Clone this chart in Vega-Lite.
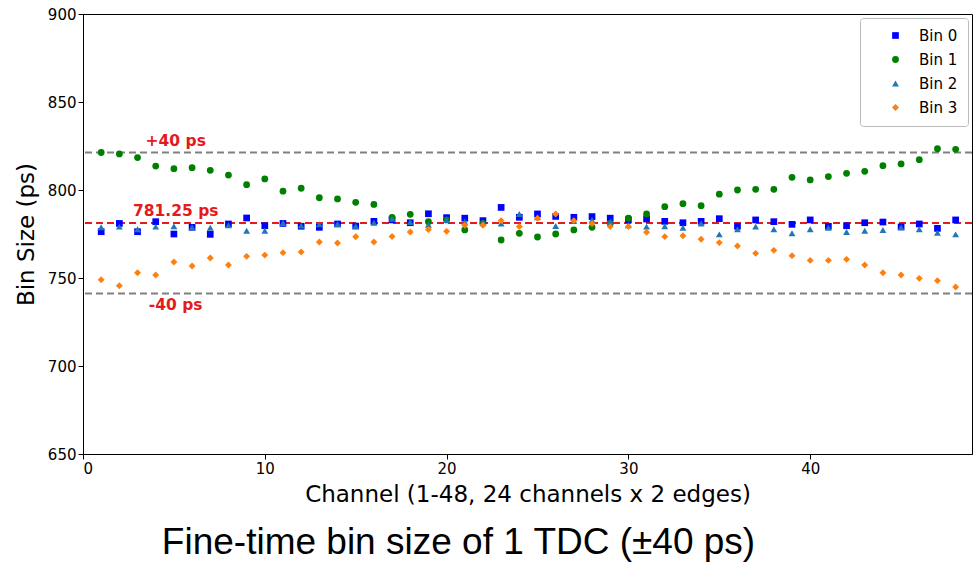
{
  "$schema": "https://vega.github.io/schema/vega-lite/v6.json",
  "width": 889,
  "height": 440,
  "autosize": {"type": "none"},
  "padding": {"left": 83, "top": 14, "right": 3, "bottom": 109},
  "background": "white",
  "config": {
    "view": {"stroke": "black", "strokeWidth": 1},
    "font": "DejaVu Sans",
    "axis": {"grid": false, "domainColor": "black", "tickColor": "black", "labelColor": "black", "titleColor": "black", "labelFontSize": 15, "titleFontSize": 23, "titleFontWeight": "normal", "tickSize": 5, "labelFont": "DejaVu Sans", "titleFont": "DejaVu Sans"}
  },
  "title": {"text": "Fine-time bin size of 1 TDC (±40 ps)", "orient": "bottom", "font": "Liberation Sans", "fontSize": 37, "fontWeight": "normal", "color": "black", "offset": 19, "anchor": "middle", "dx": -69},
  "datasets": {
    "pts": [
      {"ch":1,"bin":"Bin 0","v":776.3},{"ch":2,"bin":"Bin 0","v":781},{"ch":3,"bin":"Bin 0","v":776.3},{"ch":4,"bin":"Bin 0","v":782},{"ch":5,"bin":"Bin 0","v":775},{"ch":6,"bin":"Bin 0","v":778.8},{"ch":7,"bin":"Bin 0","v":774.8},{"ch":8,"bin":"Bin 0","v":780.7},{"ch":9,"bin":"Bin 0","v":784.1},{"ch":10,"bin":"Bin 0","v":779.7},{"ch":11,"bin":"Bin 0","v":781},{"ch":12,"bin":"Bin 0","v":779.4},{"ch":13,"bin":"Bin 0","v":778.8},{"ch":14,"bin":"Bin 0","v":780.7},{"ch":15,"bin":"Bin 0","v":779.5},{"ch":16,"bin":"Bin 0","v":782.2},{"ch":17,"bin":"Bin 0","v":783},{"ch":18,"bin":"Bin 0","v":781.4},{"ch":19,"bin":"Bin 0","v":786.5},{"ch":20,"bin":"Bin 0","v":784.3},{"ch":21,"bin":"Bin 0","v":784},{"ch":22,"bin":"Bin 0","v":782.6},{"ch":23,"bin":"Bin 0","v":790.1},{"ch":24,"bin":"Bin 0","v":784.5},{"ch":25,"bin":"Bin 0","v":786.4},{"ch":26,"bin":"Bin 0","v":785},{"ch":27,"bin":"Bin 0","v":784.5},{"ch":28,"bin":"Bin 0","v":784.9},{"ch":29,"bin":"Bin 0","v":784},{"ch":30,"bin":"Bin 0","v":783},{"ch":31,"bin":"Bin 0","v":783.5},{"ch":32,"bin":"Bin 0","v":782.2},{"ch":33,"bin":"Bin 0","v":781.4},{"ch":34,"bin":"Bin 0","v":782.2},{"ch":35,"bin":"Bin 0","v":783.7},{"ch":36,"bin":"Bin 0","v":779.4},{"ch":37,"bin":"Bin 0","v":783},{"ch":38,"bin":"Bin 0","v":782},{"ch":39,"bin":"Bin 0","v":780.5},{"ch":40,"bin":"Bin 0","v":783},{"ch":41,"bin":"Bin 0","v":779.4},{"ch":42,"bin":"Bin 0","v":779.7},{"ch":43,"bin":"Bin 0","v":781.4},{"ch":44,"bin":"Bin 0","v":781.8},{"ch":45,"bin":"Bin 0","v":779},{"ch":46,"bin":"Bin 0","v":780.7},{"ch":47,"bin":"Bin 0","v":778.2},{"ch":48,"bin":"Bin 0","v":783},
      {"ch":1,"bin":"Bin 1","v":821.3},{"ch":2,"bin":"Bin 1","v":820.5},{"ch":3,"bin":"Bin 1","v":818.4},{"ch":4,"bin":"Bin 1","v":813.6},{"ch":5,"bin":"Bin 1","v":812.1},{"ch":6,"bin":"Bin 1","v":812.7},{"ch":7,"bin":"Bin 1","v":811.2},{"ch":8,"bin":"Bin 1","v":808.5},{"ch":9,"bin":"Bin 1","v":803},{"ch":10,"bin":"Bin 1","v":806.3},{"ch":11,"bin":"Bin 1","v":799.3},{"ch":12,"bin":"Bin 1","v":801},{"ch":13,"bin":"Bin 1","v":795.6},{"ch":14,"bin":"Bin 1","v":794.9},{"ch":15,"bin":"Bin 1","v":793},{"ch":16,"bin":"Bin 1","v":791.8},{"ch":17,"bin":"Bin 1","v":784.5},{"ch":18,"bin":"Bin 1","v":786.2},{"ch":19,"bin":"Bin 1","v":782},{"ch":20,"bin":"Bin 1","v":783},{"ch":21,"bin":"Bin 1","v":777.3},{"ch":22,"bin":"Bin 1","v":781},{"ch":23,"bin":"Bin 1","v":771.6},{"ch":24,"bin":"Bin 1","v":775.4},{"ch":25,"bin":"Bin 1","v":773.3},{"ch":26,"bin":"Bin 1","v":775},{"ch":27,"bin":"Bin 1","v":777.3},{"ch":28,"bin":"Bin 1","v":778.8},{"ch":29,"bin":"Bin 1","v":781},{"ch":30,"bin":"Bin 1","v":784},{"ch":31,"bin":"Bin 1","v":786.4},{"ch":32,"bin":"Bin 1","v":790.5},{"ch":33,"bin":"Bin 1","v":792.2},{"ch":34,"bin":"Bin 1","v":791.1},{"ch":35,"bin":"Bin 1","v":797.6},{"ch":36,"bin":"Bin 1","v":800},{"ch":37,"bin":"Bin 1","v":800.4},{"ch":38,"bin":"Bin 1","v":800.4},{"ch":39,"bin":"Bin 1","v":807.2},{"ch":40,"bin":"Bin 1","v":805.7},{"ch":41,"bin":"Bin 1","v":807.6},{"ch":42,"bin":"Bin 1","v":809.5},{"ch":43,"bin":"Bin 1","v":810.6},{"ch":44,"bin":"Bin 1","v":813.8},{"ch":45,"bin":"Bin 1","v":814.8},{"ch":46,"bin":"Bin 1","v":817.2},{"ch":47,"bin":"Bin 1","v":823.5},{"ch":48,"bin":"Bin 1","v":823.1},
      {"ch":1,"bin":"Bin 2","v":778.8},{"ch":2,"bin":"Bin 2","v":779.2},{"ch":3,"bin":"Bin 2","v":777.7},{"ch":4,"bin":"Bin 2","v":779.2},{"ch":5,"bin":"Bin 2","v":779.4},{"ch":6,"bin":"Bin 2","v":778.8},{"ch":7,"bin":"Bin 2","v":778.6},{"ch":8,"bin":"Bin 2","v":780},{"ch":9,"bin":"Bin 2","v":776.9},{"ch":10,"bin":"Bin 2","v":776.9},{"ch":11,"bin":"Bin 2","v":781.2},{"ch":12,"bin":"Bin 2","v":779.8},{"ch":13,"bin":"Bin 2","v":780.5},{"ch":14,"bin":"Bin 2","v":780.7},{"ch":15,"bin":"Bin 2","v":779.5},{"ch":16,"bin":"Bin 2","v":781.4},{"ch":17,"bin":"Bin 2","v":783.6},{"ch":18,"bin":"Bin 2","v":781.8},{"ch":19,"bin":"Bin 2","v":780.3},{"ch":20,"bin":"Bin 2","v":783},{"ch":21,"bin":"Bin 2","v":782},{"ch":22,"bin":"Bin 2","v":781.5},{"ch":23,"bin":"Bin 2","v":781},{"ch":24,"bin":"Bin 2","v":786.4},{"ch":25,"bin":"Bin 2","v":784.5},{"ch":26,"bin":"Bin 2","v":779.5},{"ch":27,"bin":"Bin 2","v":782.5},{"ch":28,"bin":"Bin 2","v":783},{"ch":29,"bin":"Bin 2","v":782},{"ch":30,"bin":"Bin 2","v":780},{"ch":31,"bin":"Bin 2","v":779.2},{"ch":32,"bin":"Bin 2","v":779.4},{"ch":33,"bin":"Bin 2","v":778.6},{"ch":34,"bin":"Bin 2","v":781},{"ch":35,"bin":"Bin 2","v":774.8},{"ch":36,"bin":"Bin 2","v":777.7},{"ch":37,"bin":"Bin 2","v":779.2},{"ch":38,"bin":"Bin 2","v":777.7},{"ch":39,"bin":"Bin 2","v":775.4},{"ch":40,"bin":"Bin 2","v":777.7},{"ch":41,"bin":"Bin 2","v":778.6},{"ch":42,"bin":"Bin 2","v":776.1},{"ch":43,"bin":"Bin 2","v":776.9},{"ch":44,"bin":"Bin 2","v":777.3},{"ch":45,"bin":"Bin 2","v":778.8},{"ch":46,"bin":"Bin 2","v":777.7},{"ch":47,"bin":"Bin 2","v":775.7},{"ch":48,"bin":"Bin 2","v":774.8},
      {"ch":1,"bin":"Bin 3","v":749},{"ch":2,"bin":"Bin 3","v":745.6},{"ch":3,"bin":"Bin 3","v":753},{"ch":4,"bin":"Bin 3","v":751.7},{"ch":5,"bin":"Bin 3","v":759.1},{"ch":6,"bin":"Bin 3","v":756.8},{"ch":7,"bin":"Bin 3","v":761.4},{"ch":8,"bin":"Bin 3","v":757.4},{"ch":9,"bin":"Bin 3","v":762.3},{"ch":10,"bin":"Bin 3","v":763},{"ch":11,"bin":"Bin 3","v":764.4},{"ch":12,"bin":"Bin 3","v":764.8},{"ch":13,"bin":"Bin 3","v":770.5},{"ch":14,"bin":"Bin 3","v":769.9},{"ch":15,"bin":"Bin 3","v":773.4},{"ch":16,"bin":"Bin 3","v":770.5},{"ch":17,"bin":"Bin 3","v":773.6},{"ch":18,"bin":"Bin 3","v":776.1},{"ch":19,"bin":"Bin 3","v":777.6},{"ch":20,"bin":"Bin 3","v":776.5},{"ch":21,"bin":"Bin 3","v":780},{"ch":22,"bin":"Bin 3","v":780},{"ch":23,"bin":"Bin 3","v":782.6},{"ch":24,"bin":"Bin 3","v":779.2},{"ch":25,"bin":"Bin 3","v":784},{"ch":26,"bin":"Bin 3","v":786.4},{"ch":27,"bin":"Bin 3","v":782.6},{"ch":28,"bin":"Bin 3","v":781},{"ch":29,"bin":"Bin 3","v":779.2},{"ch":30,"bin":"Bin 3","v":779.2},{"ch":31,"bin":"Bin 3","v":776},{"ch":32,"bin":"Bin 3","v":773.5},{"ch":33,"bin":"Bin 3","v":774},{"ch":34,"bin":"Bin 3","v":772},{"ch":35,"bin":"Bin 3","v":770.1},{"ch":36,"bin":"Bin 3","v":768.2},{"ch":37,"bin":"Bin 3","v":764},{"ch":38,"bin":"Bin 3","v":765.7},{"ch":39,"bin":"Bin 3","v":762.7},{"ch":40,"bin":"Bin 3","v":760},{"ch":41,"bin":"Bin 3","v":760},{"ch":42,"bin":"Bin 3","v":760.6},{"ch":43,"bin":"Bin 3","v":757.4},{"ch":44,"bin":"Bin 3","v":753},{"ch":45,"bin":"Bin 3","v":751.7},{"ch":46,"bin":"Bin 3","v":749.8},{"ch":47,"bin":"Bin 3","v":748.5},{"ch":48,"bin":"Bin 3","v":744.9}
    ],
    "limits": [
      {"y": 821.25},
      {"y": 741.25}
    ],
    "nominal": [
      {"y": 781.25}
    ],
    "labels": [
      {"x": 5.1, "y": 827.8, "label": "+40 ps"},
      {"x": 5.1, "y": 788.2, "label": "781.25 ps"},
      {"x": 5.1, "y": 734.6, "label": "-40 ps"}
    ]
  },
  "layer": [
    {
      "data": {"name": "limits"},
      "mark": {"type": "rule", "strokeDash": [7, 4], "strokeWidth": 2, "color": "#808080"},
      "encoding": {
        "y": {"field": "y", "type": "quantitative"}
      }
    },
    {
      "data": {"name": "nominal"},
      "mark": {"type": "rule", "strokeDash": [7, 4], "strokeWidth": 2, "color": "#e41a1c"},
      "encoding": {
        "y": {"field": "y", "type": "quantitative"}
      }
    },
    {
      "data": {"name": "pts"},
      "mark": {"type": "point", "filled": true, "opacity": 1},
      "encoding": {
        "x": {"field": "ch", "type": "quantitative", "scale": {"domain": [0, 48.9], "nice": false, "zero": false}, "axis": {"values": [0, 10, 20, 30, 40], "title": "Channel (1-48, 24 channels x 2 edges)", "titlePadding": 7}},
        "y": {"field": "v", "type": "quantitative", "scale": {"domain": [650, 900], "nice": false, "zero": false}, "axis": {"values": [650, 700, 750, 800, 850, 900], "title": "Bin Size (ps)", "titlePadding": 9}},
        "color": {"field": "bin", "type": "nominal", "scale": {"domain": ["Bin 0", "Bin 1", "Bin 2", "Bin 3"], "range": ["#0000ff", "#008000", "#1f77b4", "#ff7f0e"]}, "legend": {"title": null, "orient": "top-right", "offset": 4, "labelFontSize": 15, "labelFont": "DejaVu Sans", "rowPadding": 8, "labelOffset": 16, "symbolOffset": 18, "strokeColor": "#bbbbbb", "fillColor": "white", "padding": 10, "cornerRadius": 3, "symbolOpacity": 1}},
        "shape": {"field": "bin", "type": "nominal", "scale": {"domain": ["Bin 0", "Bin 1", "Bin 2", "Bin 3"], "range": ["square", "circle", "triangle-up", "diamond"]}},
        "size": {"field": "bin", "type": "nominal", "scale": {"domain": ["Bin 0", "Bin 1", "Bin 2", "Bin 3"], "range": [45, 48, 60, 100]}}
      }
    },
    {
      "data": {"name": "labels"},
      "mark": {"type": "text", "color": "#e41a1c", "fontWeight": "bold", "fontSize": 15.5, "font": "DejaVu Sans", "align": "center", "baseline": "middle"},
      "encoding": {
        "x": {"field": "x", "type": "quantitative"},
        "y": {"field": "y", "type": "quantitative"},
        "text": {"field": "label"}
      }
    }
  ]
}
